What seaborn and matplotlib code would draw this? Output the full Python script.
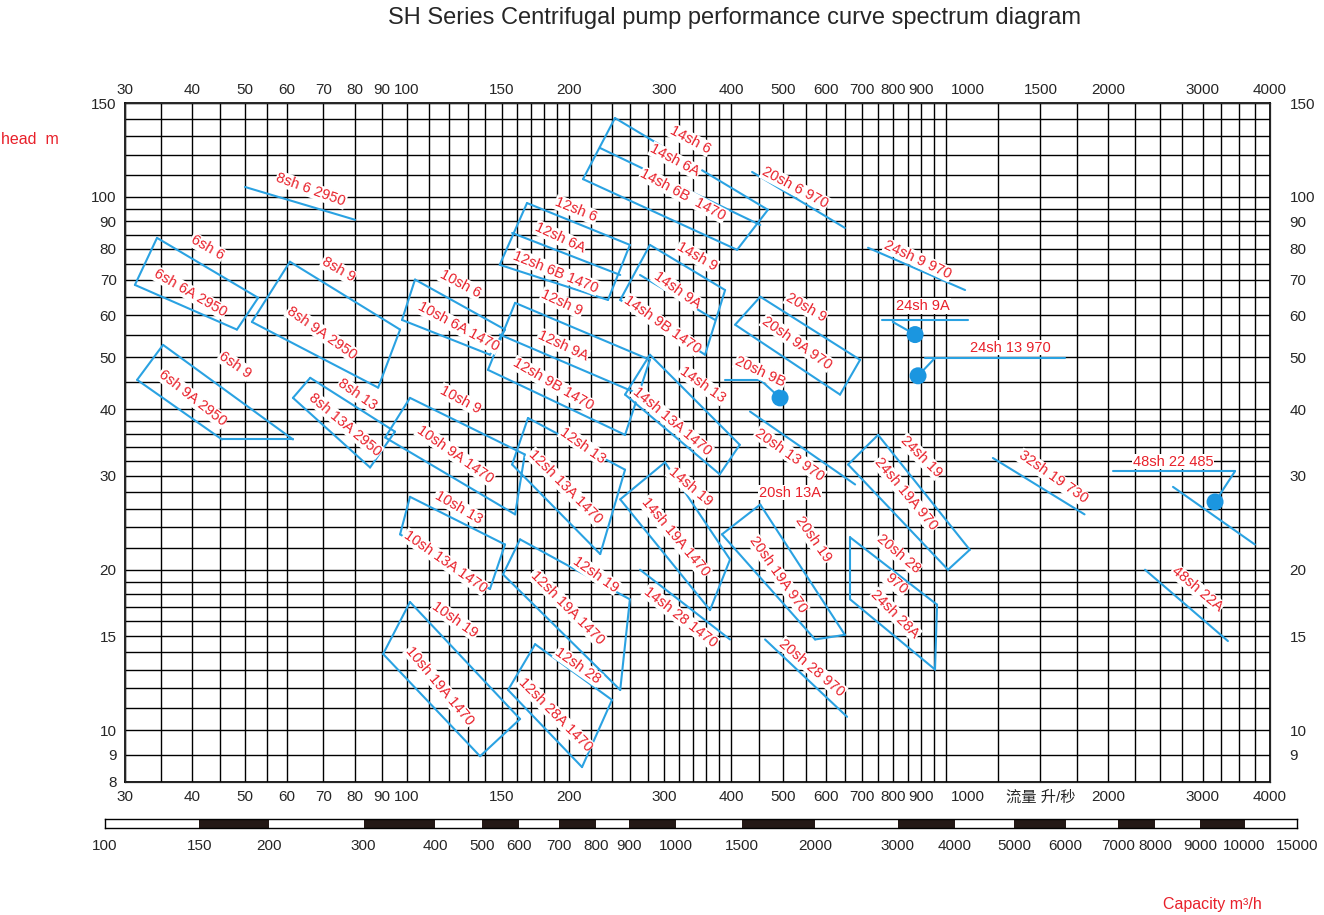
import numpy as np
import pandas as pd
import seaborn as sns
import matplotlib
matplotlib.use("Agg")
import matplotlib.pyplot as plt
import matplotlib.transforms as mtransforms

sns.set_style("white")
plt.rcParams['font.family'] = ['Liberation Sans', 'Noto Sans CJK SC']

BLUE = '#2aa2e2'
RED = '#e8202a'

# ---- pump envelope curves: family, left flow, left head, right flow, right head (L/s, m)
curve_family = ['6sh6', '6sh6', '6sh9', '6sh9', '8sh6', '8sh9', '8sh9', '8sh13', '8sh13',
                '10sh6', '10sh6', '10sh9', '10sh9', '10sh13', '10sh13', '10sh19', '10sh19',
                '12sh6', '12sh6', '12sh6', '12sh9', '12sh9', '12sh9', '12sh13', '12sh13',
                '12sh19', '12sh19', '12sh28', '12sh28',
                '14sh6', '14sh6', '14sh6', '14sh9', '14sh9', '14sh9', '14sh13', '14sh13',
                '14sh19', '14sh19', '14sh28', '20sh6', '20sh9', '20sh9', '20sh9B', '20sh9Bc',
                '20sh13', '20sh19', '20sh19', '20sh28', '24sh9', '24sh9A', '24sh9Ac',
                '24sh13', '24sh13c', '24sh19', '24sh19', '24sh28', '24sh28', '32sh19',
                '48sh22', '48sh22b', '48sh22c', '48sh22A']
curve_qL = [34.4, 31.3, 35.3, 31.6, 50.1, 60.7, 51.6, 66.2, 61.5,
            103.6, 98.0, 101.4, 91.2, 101.4, 97.2, 101.4, 90.4,
            167.2, 156.9, 148.8, 158.9, 148.8, 141.5, 167.9, 156.9,
            162.3, 150.9, 173.1, 154.2,
            243.5, 228.6, 212.4, 282.7, 271, 249, 282.7, 254.2,
            301.5, 249, 271, 437.4, 453, 406.9, 389.8, 453,
            433.5, 453, 384.6, 462.4, 718, 762.4, 798,
            916.6, 889, 749.5, 659.4, 665, 665, 1224,
            2047, 2643, 3163, 2345]
curve_hL = [83.8, 68.4, 52.8, 45.4, 104.4, 75.6, 58.3, 45.8, 42.0,
            70.0, 58.8, 42.0, 35.4, 27.4, 23.3, 17.4, 13.9,
            97.4, 85.6, 74.6, 63.3, 55.2, 47.4, 38.5, 31.5,
            22.8, 19.6, 14.5, 11.9,
            140.6, 123.5, 108, 81.3, 71.4, 64.1, 50.6, 42.6,
            31.8, 27.1, 20.0, 111.4, 65.0, 57.6, 45.4, 45.4,
            39.6, 26.5, 23.3, 14.8, 80.3, 58.8, 58.3,
            49.9, 46.2, 35.8, 31.5, 23.0, 17.6, 32.4,
            30.6, 28.6, 26.8, 20.0]
curve_qR = [53.0, 48.4, 61.5, 45.4, 80.2, 97.2, 88.5, 95.1, 85.5,
            152.2, 142.7, 165.6, 158.9, 152.2, 142.7, 162.3, 136.8,
            259.5, 249, 236.3, 282.7, 271, 254.2, 254.2, 228.6,
            259.5, 249, 240.4, 211.5,
            468, 453, 410.3, 389.8, 373.5, 357.8, 415, 381,
            398.1, 365.5, 398.1, 650.3, 694, 637, 453, 493,
            679.4, 650.3, 572.6, 656.4, 1087, 1101, 877.8,
            1666, 955.9, 1109, 1010.6, 964.2, 955.9, 1811,
            3445, 3750, 3445, 3342]
curve_hR = [64.7, 56.4, 35.1, 35.1, 90.6, 56.4, 43.9, 36.3, 31.1,
            56.4, 50.6, 32.9, 25.4, 22.3, 18.4, 10.5, 8.94,
            81.3, 71.4, 64.1, 49.5, 42.6, 35.8, 30.8, 21.4,
            17.6, 11.9, 11.4, 8.53,
            94.6, 88.6, 79.6, 66.9, 58.8, 50.6, 34.3, 30.2,
            20.9, 16.8, 14.8, 87.5, 49.5, 42.6, 45.4, 42.0,
            28.9, 15.1, 14.8, 10.6, 66.9, 58.8, 55.2,
            49.9, 49.9, 21.8, 20.0, 17.2, 13.0, 25.4,
            30.6, 22.3, 30.6, 14.7]

# ---- operating points
dot_q = [493, 877.8, 889, 3163]
dot_h = [42.0, 55.2, 46.2, 26.8]

# ---- labels
label_text = ["6sh 6", "6sh 6A 2950", "6sh 9", "6sh 9A 2950", "8sh 6 2950", "8sh 9", "8sh 9A 2950",
              "8sh 13", "8sh 13A 2950", "10sh 6", "10sh 6A 1470", "10sh 9", "10sh 9A 1470",
              "10sh 13", "10sh 13A 1470", "10sh 19", "10sh 19A 1470", "12sh 6", "12sh 6A",
              "12sh 6B 1470", "12sh 9", "12sh 9A", "12sh 9B 1470", "12sh 13", "12sh 13A 1470",
              "12sh 19", "12sh 19A 1470", "12sh 28", "12sh 28A 1470", "14sh 6", "14sh 6A",
              "14sh 6B  1470", "14sh 9", "14sh 9A", "14sh 9B 1470", "14sh 13", "14sh 13A 1470",
              "14sh 19", "14sh 19A 1470", "14sh 28 1470", "20sh 6 970", "20sh 9", "20sh 9A 970",
              "20sh 9B", "20sh 13 970", "20sh 13A", "20sh 19", "20sh 19A 970", "20sh 28 970",
              "24sh 9 970", "24sh 9A", "24sh 13 970", "24sh 19", "24sh 19A 970", "20sh 28",
              "970", "24sh 28A", "32sh 19 730", "48sh 22 485", "48sh 22A"]
label_q = [42.6, 39.6, 48.0, 40.0, 66.4, 74.6, 69.6, 81.1, 76.8, 125.7, 124.6, 125.7, 123,
           124.6, 117.8, 123, 115.2, 206.1, 192.6, 189.2, 194.2, 195, 186.9, 212.4, 196.8,
           224.4, 198.4, 207.9, 188.5, 335.6, 314.8, 325.6, 345.9, 317.3, 297.7, 353.4, 310.6,
           335.6, 314.8, 322, 525.6, 550.8, 529.8, 453, 514, 514, 567.5, 488.7, 565.2,
           889, 908, 1317, 900, 844.3, 816.7, 809.8, 806, 1582, 2643, 2928]
label_h = [80.3, 66.1, 48.4, 42.0, 103.1, 73.0, 55.6, 42.6, 37.4, 68.7, 57.1, 41.7, 32.9,
           26.2, 20.7, 16.1, 12.1, 94.6, 83.8, 72.4, 63.3, 52.6, 44.5, 34.2, 28.6,
           19.6, 17.0, 13.2, 10.7, 128, 117, 100.9, 77.2, 66.9, 57.6, 44.5, 37.9,
           28.6, 23.0, 16.3, 104.0, 62.0, 53.3, 47.0, 32.9, 27.9, 22.8, 19.6, 13.1,
           76.2, 62.5, 52.2, 32.6, 27.7, 21.4, 18.8, 16.5, 29.8, 31.9, 18.4]
label_rot = [-30, -30, -35, -38, -20, -30, -35, -35, -40, -28, -28, -28, -35,
             -30, -35, -35, -50, -22, -25, -22, -25, -25, -30, -35, -45,
             -35, -45, -35, -45, -28, -28, -28, -30, -35, -35, -35, -40,
             -40, -50, -38, -28, -30, -35, -25, -35, 0, -55, -55, -40,
             -25, 0, 0, -45, -50, -40, -40, -45, -35, 0, -40]

top_ticks = [30, 40, 50, 60, 70, 80, 90, 100, 150, 200, 300, 400, 500, 600, 700, 800, 900,
             1000, 1500, 2000, 3000, 4000]
head_ticks = [8, 9, 10, 15, 20, 30, 40, 50, 60, 70, 80, 90, 100, 150]
m3h_ticks = [100, 150, 200, 300, 400, 500, 600, 700, 800, 900, 1000, 1500, 2000, 3000,
             4000, 5000, 6000, 7000, 8000, 9000, 10000, 15000]
# printed positions of the m3/h scale marks along the bar (fraction of bar length; the scale is drawn unevenly)
m3h_frac = [0.0, 0.079, 0.138, 0.217, 0.277, 0.316, 0.347, 0.381, 0.412, 0.440, 0.479,
            0.534, 0.596, 0.665, 0.713, 0.763, 0.806, 0.850, 0.881, 0.919, 0.956, 1.0]

# ---- build segments
rows = []
seg = 0
fams = list(dict.fromkeys(curve_family))
for f in fams:
    idx = [i for i, c in enumerate(curve_family) if c == f]
    for i in idx:
        rows.append((seg, curve_qL[i], curve_hL[i])); rows.append((seg, curve_qR[i], curve_hR[i])); seg += 1
    if len(idx) >= 2:
        a, b = idx[0], idx[-1]
        rows.append((seg, curve_qL[a], curve_hL[a])); rows.append((seg, curve_qL[b], curve_hL[b])); seg += 1
        rows.append((seg, curve_qR[a], curve_hR[a])); rows.append((seg, curve_qR[b], curve_hR[b])); seg += 1
df = pd.DataFrame(rows, columns=['seg', 'q', 'h'])

fig = plt.figure(figsize=(13.24, 9.15), dpi=100)
ax = fig.add_axes([0.0944, 0.1454, 0.8648, 0.742])
ax.set_xscale('log'); ax.set_yscale('log')
ax.set_xlim(30, 4000); ax.set_ylim(8, 150)

ygrid = list(range(8, 21)) + list(range(22, 41, 2)) + list(range(45, 101, 5)) + list(range(110, 151, 10))
xgrid = (list(range(30, 61, 5)) + [70, 80, 90] + list(range(100, 201, 10)) + list(range(220, 401, 20))
         + list(range(450, 1001, 50)) + list(range(1250, 4001, 250)))
for g in ygrid:
    ax.axhline(g, color='black', lw=1.0, zorder=0)
for g in xgrid:
    ax.axvline(g, color='black', lw=1.0, zorder=0)

sns.lineplot(data=df, x='q', y='h', units='seg', estimator=None, sort=False,
             color=BLUE, lw=1.5, ax=ax, zorder=3, legend=False)
sns.scatterplot(x=dot_q, y=dot_h, color='#1b96e0', s=150, edgecolor='none', ax=ax, zorder=5)

for t, q, h, r in zip(label_text, label_q, label_h, label_rot):
    ax.text(q, h, t, color=RED, fontsize=10.5, rotation=r, ha='center', va='center',
            rotation_mode='anchor', zorder=6,
            bbox=dict(facecolor='white', edgecolor='none', pad=0.5))

ax.set_xlabel(''); ax.set_ylabel('')
ax.minorticks_off()
ax.set_xticks(top_ticks)
ax.set_xticklabels([('流量 升/秒' if v == 1500 else str(v)) for v in top_ticks], fontsize=11)
ax.set_yticks(head_ticks)
ax.set_yticklabels([str(v) for v in head_ticks], fontsize=11)
ax.tick_params(length=0, pad=6)
for s in ax.spines.values():
    s.set_color('black'); s.set_linewidth(1.2)

axt = ax.twiny()
axt.set_xscale('log'); axt.set_xlim(30, 4000); axt.minorticks_off()
axt.set_xticks(top_ticks); axt.set_xticklabels([str(v) for v in top_ticks], fontsize=11)
axt.tick_params(length=0, pad=4)
axr = ax.twinx()
axr.set_yscale('log'); axr.set_ylim(8, 150); axr.minorticks_off()
axr.set_yticks(head_ticks[1:]); axr.set_yticklabels([str(v) for v in head_ticks[1:]], fontsize=11)
axr.tick_params(length=0, pad=14)

# nudge the crowded "1000" labels right, like the reference
shift = mtransforms.ScaledTranslation(0.22, 0, fig.dpi_scale_trans)
for a in (ax, axt):
    for lbl, v in zip(a.get_xticklabels(), top_ticks):
        if v == 1000:
            lbl.set_transform(lbl.get_transform() + shift)

# bottom m3/h bar (uneven printed scale)
lt = np.log10(m3h_ticks)
fwd = lambda v: np.interp(np.log10(np.clip(v, 1e-9, None)), lt, m3h_frac)
inv = lambda p: 10 ** np.interp(p, m3h_frac, lt)
axb = fig.add_axes([0.0793, 0.095, 0.9003, 0.0098])
axb.set_xscale('function', functions=(fwd, inv))
axb.set_xlim(100, 15000); axb.set_ylim(0, 1)
for a, b in zip(m3h_ticks[1::2], m3h_ticks[2::2]):
    axb.axvspan(a, b, color='#231815', lw=0)
axb.set_xticks(m3h_ticks); axb.set_xticklabels([str(v) for v in m3h_ticks], fontsize=11)
axb.minorticks_off()
axb.set_yticks([])
axb.tick_params(length=0, pad=8)
for s in axb.spines.values():
    s.set_color('black'); s.set_linewidth(1.0)

fig.text(0.555, 0.98, 'SH Series Centrifugal pump performance curve spectrum diagram',
         ha='center', va='center', fontsize=17)
fig.text(0.001, 0.848, 'head  m', color=RED, fontsize=11.5, ha='left', va='center')
fig.text(0.953, 0.011, 'Capacity m³/h', color=RED, fontsize=11.5, ha='right', va='center')

fig.savefig('out.png', dpi=100)
